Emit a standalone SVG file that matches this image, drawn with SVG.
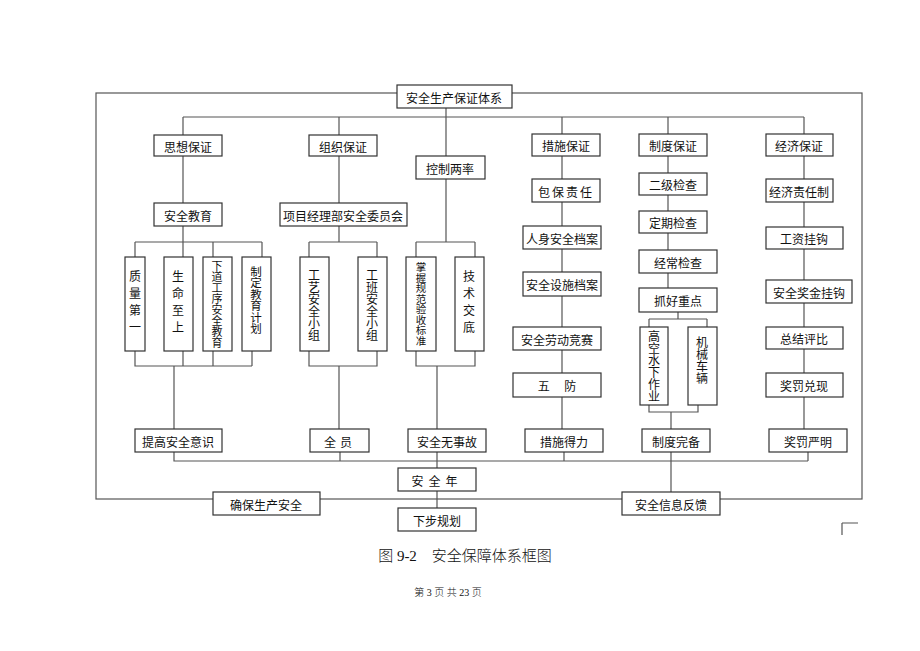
<svg xmlns="http://www.w3.org/2000/svg" width="920" height="651" viewBox="0 0 920 651">
<style>
rect{fill:#fff;stroke:#333;stroke-width:1.2}
.l{fill:none;stroke:#555;stroke-width:1.2}
text{font-family:"Noto Sans CJK SC",sans-serif;font-size:12px;fill:#111;text-anchor:middle;dominant-baseline:central}
.v{writing-mode:vertical-rl;text-orientation:upright;font-size:12px;text-anchor:middle}
.cap{font-family:"Liberation Serif","Noto Sans CJK SC",serif;font-weight:300}
</style>
<rect x="96" y="93" width="766" height="406" style="fill:none;stroke:#555"/>
<g id="connectors" class="l">
<path d="M183 117H804M183 117V135M339 117V135M562 117V134M668 117V134M804 117V134M446 108V156"/>
<path d="M183 156V203M183 226V242M135 242H262M135 242V257M183 242V257M213 242V257M262 242V257M135 351V366H252M183 351V366M213 351V366M252 351V366M174 366V429"/>
<path d="M339 156V203M339 226V242M309 242H377M309 242V257M377 242V257M309 351V366H377V351M339 366V429"/>
<path d="M446 179V242M416 242H475M416 242V257M475 242V257M416 351V366H475V351M437 366V429"/>
<path d="M562 156V429M668 156V288M678 312V319M649 319H707M649 319V327M707 319V327M649 405V412H698V405M671 412V492M804 156V429"/>
<path d="M174 452V461H808M340 452V461M437 452V468M564 452V461M808 452V461M437 491V508"/>
<path d="M842 523H858M842 523V535"/>
</g>
<g id="n_top"><rect x="397" y="85" width="115" height="23"/><text x="454" y="97">安全生产保证体系</text></g>
<g id="n_sx"><rect x="154" y="135" width="68" height="21"/><text x="188" y="146">思想保证</text></g>
<g id="n_zz"><rect x="309" y="135" width="68" height="21"/><text x="343" y="146">组织保证</text></g>
<g id="n_kz"><rect x="416" y="156" width="69" height="23"/><text x="450" y="168">控制两率</text></g>
<g id="n_cs"><rect x="532" y="134" width="68" height="22"/><text x="566" y="145">措施保证</text></g>
<g id="n_zd"><rect x="639" y="134" width="68" height="22"/><text x="673" y="145">制度保证</text></g>
<g id="n_jj"><rect x="766" y="134" width="67" height="22"/><text x="799" y="145">经济保证</text></g>
<g id="n_aqjy"><rect x="154" y="203" width="68" height="23"/><text x="188" y="215">安全教育</text></g>
<g id="n_xm"><rect x="280" y="203" width="127" height="23"/><text x="343" y="215">项目经理部安全委员会</text></g>
<g id="n_v1"><rect x="125" y="257" width="20" height="94"/><text class="v" x="135" y="304" style="letter-spacing:5px">质量第一</text></g>
<g id="n_v2"><rect x="164" y="257" width="29" height="94"/><text class="v" x="178" y="304" style="letter-spacing:5px">生命至上</text></g>
<g id="n_v3"><rect x="203" y="257" width="29" height="94"/><text class="v" x="217" y="304" style="font-size:11px">下道工序安全教育</text></g>
<g id="n_v4"><rect x="242" y="257" width="29" height="94"/><text class="v" x="256" y="300" style="font-size:11.5px">制定教育计划</text></g>
<g id="n_v5"><rect x="300" y="257" width="29" height="94"/><text class="v" x="314" y="305">工艺安全小组</text></g>
<g id="n_v6"><rect x="358" y="257" width="29" height="94"/><text class="v" x="372" y="305">工班安全小组</text></g>
<g id="n_v7"><rect x="406" y="257" width="30" height="94"/><text class="v" x="421" y="304" style="font-size:10.5px">掌握规范验收标准</text></g>
<g id="n_v8"><rect x="455" y="257" width="29" height="94"/><text class="v" x="469" y="304" style="letter-spacing:5px">技术交底</text></g>
<g id="n_bb"><rect x="532" y="179" width="68" height="23"/><text x="566" y="191" style="letter-spacing:2px">包保责任</text></g>
<g id="n_rs"><rect x="523" y="226" width="78" height="23"/><text x="562" y="238">人身安全档案</text></g>
<g id="n_ss"><rect x="523" y="272" width="78" height="24"/><text x="562" y="284">安全设施档案</text></g>
<g id="n_ld"><rect x="513" y="327" width="88" height="23"/><text x="557" y="339">安全劳动竞赛</text></g>
<g id="n_wf"><rect x="513" y="373" width="88" height="24"/><text x="557" y="385">五　 防</text></g>
<g id="n_ej"><rect x="639" y="173" width="68" height="22"/><text x="673" y="184">二级检查</text></g>
<g id="n_dq"><rect x="639" y="211" width="68" height="22"/><text x="673" y="222">定期检查</text></g>
<g id="n_jc"><rect x="639" y="250" width="78" height="23"/><text x="678" y="262">经常检查</text></g>
<g id="n_zh"><rect x="639" y="288" width="78" height="24"/><text x="678" y="300">抓好重点</text></g>
<g id="n_gk"><rect x="640" y="327" width="28" height="78"/><text class="v" x="654" y="366">高空水下作业</text></g>
<g id="n_jx"><rect x="688" y="327" width="29" height="78"/><text class="v" x="702" y="360">机械车辆</text></g>
<g id="n_jz"><rect x="766" y="179" width="67" height="23"/><text x="799" y="191">经济责任制</text></g>
<g id="n_gz"><rect x="766" y="227" width="77" height="22"/><text x="804" y="238">工资挂钩</text></g>
<g id="n_jj2"><rect x="766" y="280" width="86" height="23"/><text x="809" y="292">安全奖金挂钩</text></g>
<g id="n_zj"><rect x="766" y="327" width="77" height="22"/><text x="804" y="338">总结评比</text></g>
<g id="n_dx"><rect x="766" y="373" width="77" height="24"/><text x="804" y="385">奖罚兑现</text></g>
<g id="n_tg"><rect x="135" y="429" width="87" height="23"/><text x="178" y="441">提高安全意识</text></g>
<g id="n_qy"><rect x="310" y="429" width="59" height="23"/><text x="340" y="441" style="letter-spacing:4px">全员</text></g>
<g id="n_ws"><rect x="408" y="429" width="78" height="23"/><text x="447" y="441">安全无事故</text></g>
<g id="n_dl"><rect x="525" y="429" width="78" height="23"/><text x="564" y="441">措施得力</text></g>
<g id="n_wb"><rect x="642" y="429" width="68" height="23"/><text x="676" y="441">制度完备</text></g>
<g id="n_ym"><rect x="769" y="429" width="78" height="23"/><text x="808" y="441">奖罚严明</text></g>
<g id="n_aqn"><rect x="398" y="468" width="78" height="23"/><text x="437" y="480" style="letter-spacing:5px">安全年</text></g>
<g id="n_qb"><rect x="213" y="492" width="107" height="23"/><text x="266" y="504">确保生产安全</text></g>
<g id="n_fk"><rect x="622" y="492" width="98" height="23"/><text x="671" y="504">安全信息反馈</text></g>
<g id="n_xb"><rect x="398" y="508" width="78" height="23"/><text x="437" y="520">下步规划</text></g>
<text class="cap" x="465" y="556" style="font-size:15px">图 9-2　安全保障体系框图</text>
<text class="cap" x="448" y="592" style="font-size:10px">第 3 页 共 23 页</text>
</svg>
